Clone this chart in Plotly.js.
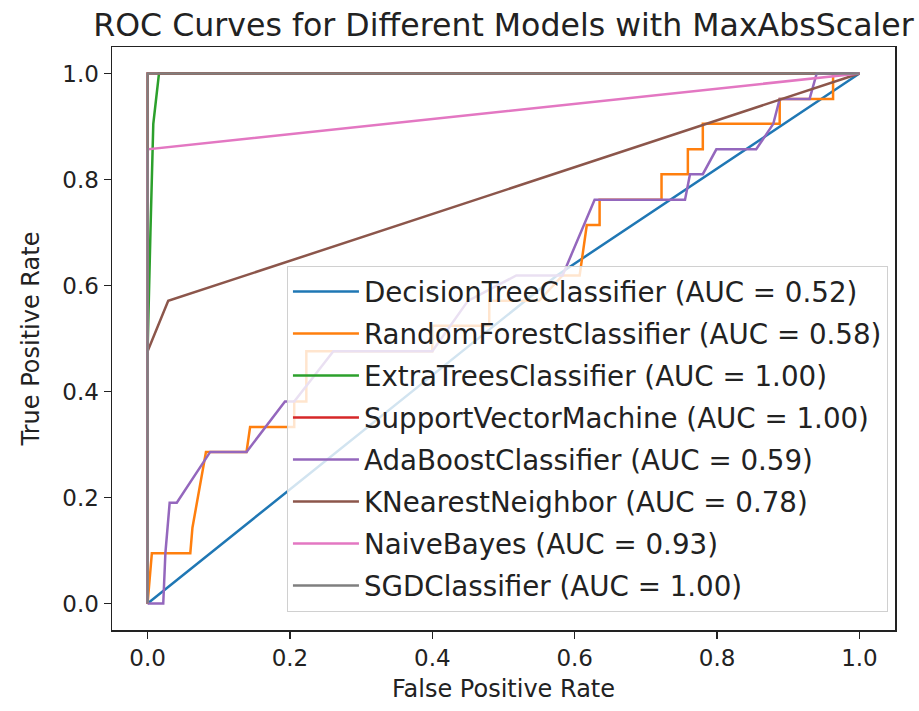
<!DOCTYPE html>
<html>
<head>
<meta charset="utf-8">
<script src="https://cdn.plot.ly/plotly-3.0.1.min.js"></script>
<style>html,body{margin:0;padding:0;background:#fff;}#chart{width:919px;height:711px;}</style>
</head>
<body>
<div id="chart"></div>
<script>
// Legend labels
const modelNames = [
  "DecisionTreeClassifier (AUC = 0.52)",
  "RandomForestClassifier (AUC = 0.58)",
  "ExtraTreesClassifier (AUC = 1.00)",
  "SupportVectorMachine (AUC = 1.00)",
  "AdaBoostClassifier (AUC = 0.59)",
  "KNearestNeighbor (AUC = 0.78)",
  "NaiveBayes (AUC = 0.93)",
  "SGDClassifier (AUC = 1.00)"
];
const modelColors = ["#1f77b4","#ff7f0e","#2ca02c","#d62728","#9467bd","#8c564b","#e377c2","#7f7f7f"];

// ROC points (false positive rate, true positive rate)
const fprDecisionTree = [0, 0.575, 1];
const tprDecisionTree = [0, 0.619, 1];

const fprRandomForest = [0, 0.006, 0.06, 0.063, 0.082, 0.139, 0.144, 0.206, 0.206, 0.223, 0.223, 0.40, 0.40, 0.48, 0.48, 0.55, 0.583, 0.607, 0.617, 0.635, 0.635, 0.722, 0.722, 0.759, 0.759, 0.78, 0.78, 0.888, 0.888, 0.963, 0.963, 1];
const tprRandomForest = [0, 0.095, 0.095, 0.143, 0.286, 0.286, 0.333, 0.333, 0.381, 0.381, 0.476, 0.476, 0.524, 0.524, 0.571, 0.571, 0.619, 0.619, 0.714, 0.714, 0.762, 0.762, 0.810, 0.810, 0.857, 0.857, 0.905, 0.905, 0.952, 0.952, 1, 1];

const fprExtraTrees = [0, 0, 0.004, 0.008, 0.016, 1];
const tprExtraTrees = [0, 0.476, 0.70, 0.905, 1, 1];

const fprSVM = [0, 0, 1];
const tprSVM = [0, 1, 1];

const fprAdaBoost = [0, 0.022, 0.025, 0.031, 0.041, 0.088, 0.139, 0.193, 0.206, 0.261, 0.40, 0.45, 0.518, 0.583, 0.628, 0.755, 0.762, 0.78, 0.799, 0.855, 0.879, 0.888, 0.93, 0.94, 1];
const tprAdaBoost = [0, 0, 0.095, 0.190, 0.190, 0.286, 0.286, 0.381, 0.381, 0.476, 0.476, 0.571, 0.619, 0.619, 0.762, 0.762, 0.810, 0.810, 0.857, 0.857, 0.905, 0.952, 0.952, 1, 1];

const fprKNN = [0, 0, 0.029, 1];
const tprKNN = [0, 0.476, 0.571, 1];

const fprNaiveBayes = [0, 0, 1];
const tprNaiveBayes = [0, 0.857, 1];

const fprSGD = [0, 0, 1];
const tprSGD = [0, 1, 1];

const xs = [fprDecisionTree, fprRandomForest, fprExtraTrees, fprSVM, fprAdaBoost, fprKNN, fprNaiveBayes, fprSGD];
const ys = [tprDecisionTree, tprRandomForest, tprExtraTrees, tprSVM, tprAdaBoost, tprKNN, tprNaiveBayes, tprSGD];

const tickVals = [0, 0.2, 0.4, 0.6, 0.8, 1.0];
const tickText = ["0.0", "0.2", "0.4", "0.6", "0.8", "1.0"];

const traces = modelNames.map((name, i) => ({
  type: "scatter",
  mode: "lines",
  x: xs[i],
  y: ys[i],
  name: name,
  legendgroup: "g" + i,
  line: {color: modelColors[i], width: 2.5},
  hoverinfo: "skip"
}));

const font = "DejaVu Sans, sans-serif";
const axisCommon = {
  range: [-0.05, 1.05],
  tickvals: tickVals,
  ticktext: tickText,
  showgrid: false,
  zeroline: false,
  showline: true,
  mirror: true,
  linecolor: "#222",
  linewidth: 1.5,
  ticks: "outside",
  ticklen: 7,
  tickwidth: 1.5,
  tickcolor: "#222",
  tickfont: {family: font, size: 23, color: "#222"}
};

const layout = {
  width: 919,
  height: 711,
  margin: {l: 112, r: 24, t: 47, b: 81},
  paper_bgcolor: "#fff",
  plot_bgcolor: "#fff",
  font: {family: font, color: "#222"},
  showlegend: true,
  title: {
    text: "ROC Curves for Different Models with MaxAbsScaler",
    font: {family: font, size: 31.6, color: "#222"},
    x: 0.5, xref: "paper", xanchor: "center",
    y: 1 - 25/711, yref: "container", yanchor: "middle"
  },
  xaxis: Object.assign({}, axisCommon, {
    title: {text: "False Positive Rate", font: {family: font, size: 24, color: "#222"}, standoff: 10}
  }),
  yaxis: Object.assign({}, axisCommon, {
    title: {text: "True Positive Rate", font: {family: font, size: 24, color: "#222"}, standoff: 16}
  }),
  legend: {
    x: 0.991, xanchor: "right",
    y: 0.031, yanchor: "bottom",
    bgcolor: "rgba(255,255,255,0.8)",
    bordercolor: "#d0d0d0",
    borderwidth: 1,
    font: {family: font, size: 27.7, color: "#222"},
    itemwidth: 66,
    tracegroupgap: 3,
    traceorder: "grouped"
  }
};

Plotly.newPlot("chart", traces, layout, {displayModeBar: false, staticPlot: true});
</script>
</body>
</html>
